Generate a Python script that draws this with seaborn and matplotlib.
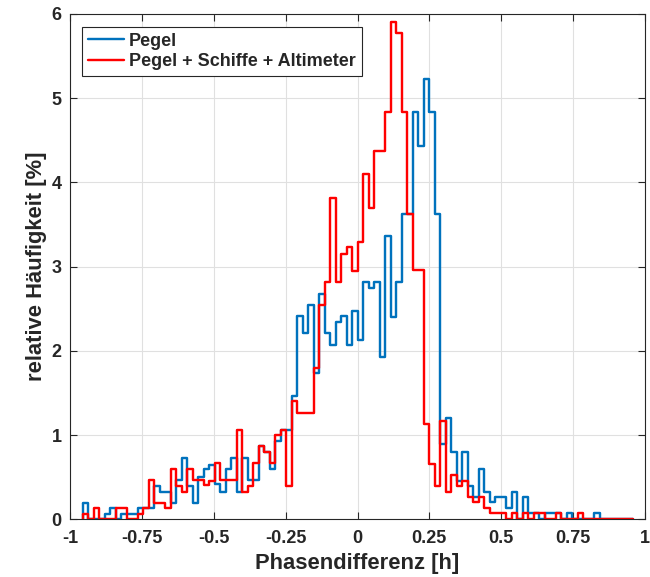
import numpy as np
import pandas as pd
import matplotlib
matplotlib.use("Agg")
import matplotlib.pyplot as plt
from matplotlib.lines import Line2D
import seaborn as sns

# ---- data ----
bin_start = -0.955
bin_stop = 0.958
n_bins = 100

pegel = [0.19, 0, 0, 0, 0.06, 0.13, 0, 0.06, 0.06, 0.06,
         0.13, 0.13, 0.13, 0.4, 0.33, 0.33, 0.19, 0.47, 0.73, 0.4,
         0.19, 0.5, 0.6, 0.65, 0.42, 0.33, 0.6, 0.73, 0.33, 0.73,
         0.47, 0.47, 0.87, 0.8, 0.6, 0.93, 1.06, 1.06, 1.47, 2.41,
         2.21, 2.54, 1.74, 2.68, 2.21, 2.07, 2.34, 2.41, 2.07, 2.47,
         2.13, 2.82, 2.75, 2.82, 1.93, 3.36, 2.40, 2.82, 3.63, 3.63,
         4.84, 4.43, 5.23, 4.84, 3.63, 0.9, 1.2, 0.8, 0.46, 0.8,
         0.4, 0.27, 0.6, 0.33, 0.2, 0.27, 0.27, 0.13, 0.33, 0,
         0.27, 0.07, 0.07, 0, 0.07, 0.07, 0.07, 0, 0.07, 0,
         0, 0, 0, 0.07, 0, 0, 0, 0, 0, 0]

pegel_schiffe_alt = [0.06, 0, 0.13, 0, 0, 0, 0.13, 0.13, 0, 0,
                     0.06, 0.13, 0.47, 0.19, 0.19, 0.13, 0.6, 0.4, 0.33, 0.6,
                     0.47, 0.47, 0.41, 0.45, 0.67, 0.47, 0.47, 0.47, 1.06, 0.33,
                     0.4, 0.67, 0.87, 0.8, 0.67, 1.0, 1.06, 0.4, 1.4, 1.26,
                     1.26, 1.26, 1.8, 2.54, 2.82, 3.82, 2.82, 3.15, 3.23, 2.95,
                     3.29, 4.1, 3.70, 4.37, 4.37, 4.84, 5.9, 5.78, 4.84, 3.63,
                     2.96, 2.96, 1.13, 0.66, 0.40, 1.17, 0.33, 0.53, 0.4, 0.46,
                     0.27, 0.2, 0.27, 0.13, 0.07, 0.07, 0.07, 0, 0.07, 0,
                     0.07, 0, 0.07, 0.07, 0, 0, 0.07, 0, 0, 0,
                     0.07, 0, 0, 0, 0, 0, 0, 0, 0, 0]

series_names = ["Pegel", "Pegel + Schiffe + Altimeter"]
x_ticks = [-1, -0.75, -0.5, -0.25, 0, 0.25, 0.5, 0.75, 1]
x_tick_labels = ["-1", "-0.75", "-0.5", "-0.25", "0", "0.25", "0.5", "0.75", "1"]
y_ticks = [0, 1, 2, 3, 4, 5, 6]
x_label = "Phasendifferenz [h]"
y_label = "relative Häufigkeit [%]"

# ---- style ----
sns.set_theme(style="ticks")
plt.rcParams['font.family'] = ['Liberation Sans', 'DejaVu Sans']
plt.rcParams['font.weight'] = 'bold'
dark = '#262626'
colors = ['#0072BD', '#FF0000']
lw = 2.4 * 72 / 100

edges = np.linspace(bin_start, bin_stop, n_bins + 1)
centers = (edges[:-1] + edges[1:]) / 2

fig = plt.figure(figsize=(6.5, 5.77), dpi=100)
ax = fig.add_axes([70 / 650, 57.7 / 577, 575 / 650, 505.3 / 577])

handles = []
for name, vals, col in zip(series_names, [pegel, pegel_schiffe_alt], colors):
    df = pd.DataFrame({"center": centers, "value": np.asarray(vals, float)})
    sns.histplot(data=df, x="center", weights="value", bins=list(edges),
                 element='step', fill=False, color=col, linewidth=lw, ax=ax)
    # closing verticals at both ends of the stairs
    ax.plot([edges[0], edges[0]], [0, vals[0]], color=col, lw=lw,
            solid_capstyle='butt')
    ax.plot([edges[-1], edges[-1]], [0, vals[-1]], color=col, lw=lw,
            solid_capstyle='butt')
    handles.append(Line2D([], [], color=col, lw=lw))

ax.set_xlim(-1, 1)
ax.set_ylim(0, 6)
ax.set_xticks(x_ticks)
ax.set_xticklabels(x_tick_labels)
ax.set_yticks(y_ticks)
ax.grid(True, color='#e0e0e0', linewidth=0.8)
ax.set_axisbelow(True)
for s in ax.spines.values():
    s.set_color(dark)
    s.set_linewidth(0.8)
    s.set_visible(True)
ax.tick_params(axis='both', direction='in', top=True, right=True,
               length=5, width=0.8, color=dark, labelcolor=dark,
               labelsize=13)
ax.tick_params(axis='x', pad=8)
ax.tick_params(axis='y', pad=6)
for t in ax.get_xticklabels() + ax.get_yticklabels():
    t.set_fontweight('bold')

ax.set_xlabel(x_label, fontsize=15.8, fontweight='bold', color=dark, labelpad=4)
ax.set_ylabel(y_label, fontsize=15.8, fontweight='bold', color=dark, labelpad=3)

leg = ax.legend(handles=handles, labels=series_names, loc='upper left',
                bbox_to_anchor=(11.7 / 575, 1 - 12.7 / 505.3),
                borderaxespad=0, frameon=True, fancybox=False,
                edgecolor=dark, framealpha=1,
                prop={'weight': 'bold', 'size': 13},
                handlelength=2.0, handletextpad=0.3, labelspacing=0.18,
                borderpad=0.33)
leg.get_frame().set_linewidth(0.8)
for t in leg.get_texts():
    t.set_color(dark)

fig.savefig('out.png', dpi=100)
